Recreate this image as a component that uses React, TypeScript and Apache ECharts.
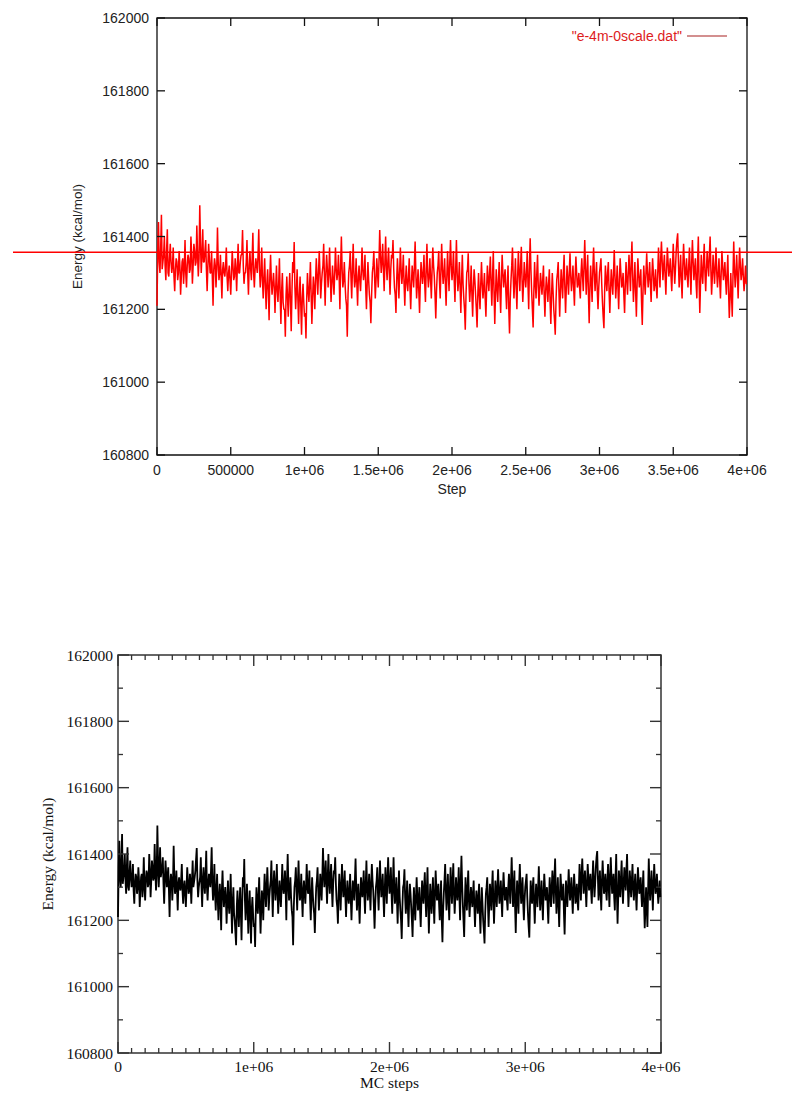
import React, { useEffect, useRef } from "react";
import * as echarts from "echarts";

// Energy (kcal/mol): one value every 10000 MC steps ...
const STEP_SPACING = 10000;
const energyAtSteps: number[] = [
  161210, 161440, 161300, 161460, 161330, 161400, 161280, 161420, 161290, 161380,
  161300, 161370, 161250, 161340, 161280, 161360, 161240, 161330, 161270, 161390,
  161260, 161350, 161300, 161400, 161270, 161380, 161320, 161430, 161290, 161486,
  161300, 161420, 161330, 161390, 161250, 161380, 161300, 161360, 161210, 161340,
  161260, 161425, 161280, 161350, 161230, 161330, 161290, 161370, 161250, 161320,
  161240, 161360, 161280, 161340, 161250, 161380, 161300, 161350, 161418, 161270,
  161300, 161390, 161240, 161360, 161280, 161410, 161260, 161340, 161300, 161420,
  161260, 161370, 161230, 161340, 161200, 161310, 161170, 161350, 161240, 161300,
  161190, 161320, 161220, 161340, 161160, 161300, 161200, 161125, 161290, 161180,
  161300, 161140, 161330, 161385, 161200, 161310, 161160, 161290, 161130, 161270,
  161180, 161120, 161300, 161220, 161330, 161160, 161290, 161200, 161340, 161240,
  161360, 161230, 161300, 161380, 161210, 161350, 161260, 161370, 161220, 161320,
  161240, 161370, 161280, 161350, 161200, 161400, 161260, 161330, 161230, 161125,
  161300, 161360, 161230, 161380, 161260, 161340, 161210, 161320, 161250, 161370,
  161280, 161350, 161200, 161330, 161240, 161162, 161300, 161360, 161230, 161340,
  161260, 161418, 161300, 161380, 161250, 161400, 161280, 161370, 161240, 161350,
  161390, 161260, 161190, 161340, 161230, 161370, 161270, 161350, 161210, 161320,
  161250, 161340, 161200, 161320, 161260, 161386, 161230, 161310, 161190, 161330,
  161270, 161350, 161220, 161380, 161260, 161340, 161230, 161370, 161290, 161175,
  161300, 161360, 161230, 161380, 161270, 161340, 161210, 161360, 161250, 161390,
  161280, 161360, 161220, 161390, 161250, 161330, 161190, 161350, 161230, 161144,
  161300, 161354, 161220, 161320, 161180, 161310, 161240, 161150, 161300, 161200,
  161330, 161230, 161300, 161180, 161320, 161250, 161345, 161210, 161360, 161160,
  161310, 161220, 161330, 161190, 161350, 161260, 161310, 161200, 161320, 161134,
  161280, 161370, 161230, 161340, 161200, 161360, 161250, 161372, 161220, 161330,
  161260, 161360, 161200, 161395, 161250, 161150, 161330, 161230, 161350, 161210,
  161300, 161240, 161320, 161180, 161290, 161220, 161310, 161160, 161300, 161200,
  161130, 161280, 161330, 161180, 161310, 161230, 161350, 161190, 161320, 161240,
  161354, 161250, 161320, 161210, 161345, 161260, 161300, 161230, 161340, 161250,
  161390, 161240, 161350, 161162, 161320, 161220, 161370, 161250, 161330, 161200,
  161300, 161340, 161220, 161148, 161320, 161250, 161330, 161190, 161310, 161240,
  161363, 161230, 161320, 161200, 161340, 161260, 161300, 161190, 161330, 161240,
  161350, 161250, 161386, 161220, 161330, 161180, 161340, 161260, 161310, 161157,
  161320, 161240, 161354, 161260, 161330, 161220, 161340, 161250, 161310, 161230,
  161370, 161260, 161386, 161280, 161350, 161240, 161370, 161290, 161340, 161250,
  161380, 161270, 161360, 161409, 161260, 161350, 161230, 161380, 161280, 161340,
  161260, 161370, 161240, 161390, 161280, 161340, 161230, 161400, 161190, 161350,
  161270, 161380, 161250, 161360, 161290, 161400, 161240, 161350, 161270, 161370,
  161260, 161340, 161230, 161360, 161280, 161330, 161240, 161350, 161176, 161300,
  161180, 161386, 161260, 161350, 161230, 161370, 161280, 161340, 161250, 161320,
  161270,
];
// ... and one value half-way between each pair (5000 + k*10000 steps)
const energyAtHalfSteps: number[] = [
  161360, 161330, 161370, 161310, 161350, 161320, 161360, 161300, 161340, 161330,
  161320, 161290, 161310, 161330, 161300, 161320, 161290, 161340, 161310, 161300,
  161320, 161340, 161310, 161350, 161320, 161360, 161330, 161350, 161340, 161380,
  161350, 161330, 161360, 161310, 161320, 161340, 161300, 161290, 161310, 161320,
  161310, 161330, 161300, 161290, 161310, 161300, 161320, 161290, 161300, 161280,
  161300, 161320, 161290, 161310, 161320, 161300, 161330, 161350, 161320, 161300,
  161330, 161300, 161320, 161310, 161340, 161300, 161310, 161320, 161350, 161310,
  161300, 161280, 161290, 161260, 161270, 161250, 161290, 161280, 161270, 161260,
  161260, 161250, 161270, 161240, 161250, 161220, 161200, 161240, 161230, 161250,
  161220, 161250, 161300, 161260, 161250, 161230, 161240, 161210, 161230, 161220,
  161190, 161230, 161250, 161270, 161240, 161230, 161260, 161280, 161290, 161300,
  161300, 161270, 161320, 161290, 161300, 161310, 161300, 161290, 161270, 161280,
  161300, 161310, 161300, 161290, 161320, 161310, 161280, 161270, 161210, 161240,
  161320, 161290, 161310, 161300, 161280, 161270, 161290, 161280, 161300, 161310,
  161300, 161260, 161270, 161280, 161220, 161240, 161320, 161290, 161280, 161300,
  161330, 161350, 161330, 161310, 161330, 161320, 161330, 161300, 161310, 161340,
  161310, 161240, 161280, 161290, 161300, 161310, 161300, 161270, 161280, 161270,
  161290, 161260, 161270, 161290, 161320, 161300, 161270, 161250, 161270, 161300,
  161300, 161270, 161310, 161300, 161290, 161280, 161310, 161320, 161240, 161250,
  161320, 161280, 161310, 161310, 161300, 161270, 161290, 161300, 161330, 161320,
  161310, 161280, 161310, 161300, 161280, 161260, 161280, 161270, 161200, 161240,
  161310, 161270, 161260, 161240, 161260, 161280, 161200, 161240, 161240, 161270,
  161270, 161260, 161230, 161260, 161280, 161300, 161270, 161290, 161250, 161240,
  161260, 161280, 161250, 161280, 161300, 161290, 161250, 161270, 161200, 161230,
  161320, 161290, 161280, 161260, 161290, 161300, 161320, 161280, 161270, 161290,
  161300, 161270, 161320, 161310, 161200, 161250, 161270, 161300, 161260, 161260,
  161270, 161280, 161240, 161250, 161260, 161270, 161220, 161240, 161250, 161170,
  161220, 161300, 161250, 161250, 161270, 161300, 161260, 161260, 161280, 161300,
  161290, 161280, 161260, 161290, 161300, 161270, 161260, 161300, 161290, 161320,
  161310, 161300, 161240, 161260, 161270, 161310, 161300, 161290, 161250, 161260,
  161320, 161270, 161180, 161250, 161280, 161300, 161250, 161260, 161270, 161300,
  161290, 161270, 161260, 161280, 161300, 161270, 161240, 161270, 161280, 161300,
  161300, 161330, 161290, 161270, 161250, 161270, 161300, 161280, 161220, 161250,
  161280, 161300, 161300, 161290, 161270, 161290, 161300, 161270, 161260, 161300,
  161310, 161340, 161330, 161320, 161290, 161310, 161330, 161310, 161290, 161320,
  161320, 161310, 161390, 161330, 161300, 161280, 161320, 161330, 161300, 161290,
  161320, 161300, 161330, 161330, 161310, 161270, 161330, 161280, 161270, 161300,
  161330, 161300, 161310, 161320, 161350, 161310, 161290, 161310, 161320, 161300,
  161300, 161280, 161300, 161320, 161300, 161280, 161300, 161250, 161230, 161240,
  161290, 161310, 161300, 161290, 161310, 161320, 161300, 161290, 161280, 161270,
];

const referenceEnergy = 161357;
const seriesName = '"e-4m-0scale.dat"';

const topXTickLabels = ["0", "500000", "1e+06", "1.5e+06", "2e+06", "2.5e+06", "3e+06", "3.5e+06", "4e+06"];
const bottomXTickLabels = ["0", "1e+06", "2e+06", "3e+06", "4e+06"];
const yTickLabels = ["160800", "161000", "161200", "161400", "161600", "161800", "162000"];

const X_MIN = 0;
const X_MAX = 4000000;
const Y_MIN = 160800;
const Y_MAX = 162000;
const TOP_X_STEP = 500000;
const BOT_X_STEP = 1000000;
const BOT_X_MINOR = 100000;
const Y_STEP = 200;
const Y_MINOR = 100;

function range(min: number, max: number, step: number): number[] {
  const out: number[] = [];
  for (let v = min; v <= max + 1e-6; v += step) out.push(v);
  return out;
}

export default function App() {
  const ref = useRef<HTMLDivElement>(null);

  useEffect(() => {
    if (!ref.current) return;
    const chart = echarts.init(ref.current, undefined, { renderer: "svg" });

    const data: number[][] = [];
    energyAtSteps.forEach((v, i) => {
      data.push([i * STEP_SPACING, v]);
      if (i < energyAtHalfSteps.length) data.push([i * STEP_SPACING + STEP_SPACING / 2, energyAtHalfSteps[i]]);
    });

    const sans = "Liberation Sans";
    const serif = "Liberation Serif";

    const option: any = {
      animation: false,
      backgroundColor: "#fff",
      grid: [
        { left: 157, top: 18, width: 590, height: 437, show: true, borderColor: "#111", borderWidth: 1.3, backgroundColor: "transparent" },
        { left: 118, top: 655, width: 543, height: 398, show: true, borderColor: "#333", borderWidth: 1.5, backgroundColor: "transparent" },
      ],
      legend: {
        data: [{ name: seriesName, icon: "rect", itemStyle: { color: "#c46a6a" } }],
        align: "right",
        right: 68,
        top: 24,
        itemWidth: 40,
        itemHeight: 1.5,
        itemGap: 8,
        textStyle: { color: "#dd1c1c", fontSize: 14, fontFamily: sans },
      },
      xAxis: [
        {
          gridIndex: 0, type: "value", position: "bottom", min: X_MIN, max: X_MAX, interval: TOP_X_STEP,
          axisLine: { show: false }, axisTick: { show: false },
          axisLabel: { fontFamily: sans, fontSize: 14, color: "#222", margin: 8,
            formatter: (_v: number, i: number) => topXTickLabels[i] },
          splitLine: { show: false },
          name: "Step", nameLocation: "middle", nameGap: 27,
          nameTextStyle: { fontFamily: sans, fontSize: 14, color: "#222" },
        },
        {
          gridIndex: 1, type: "value", position: "bottom", min: X_MIN, max: X_MAX, interval: BOT_X_STEP,
          axisLine: { show: false }, axisTick: { show: false },
          axisLabel: { fontFamily: serif, fontSize: 15.5, color: "#111", margin: 5,
            formatter: (_v: number, i: number) => bottomXTickLabels[i] },
          splitLine: { show: false },
          name: "MC steps", nameLocation: "middle", nameGap: 21,
          nameTextStyle: { fontFamily: serif, fontSize: 15.5, color: "#111" },
        },
      ],
      yAxis: [
        {
          gridIndex: 0, type: "value", position: "left", min: Y_MIN, max: Y_MAX, interval: Y_STEP,
          axisLine: { show: false }, axisTick: { show: false },
          axisLabel: { fontFamily: sans, fontSize: 14, color: "#222", margin: 8,
            formatter: (_v: number, i: number) => yTickLabels[i] },
          splitLine: { show: false },
          name: "Energy (kcal/mol)", nameLocation: "middle", nameGap: 73,
          nameTextStyle: { fontFamily: sans, fontSize: 13.5, color: "#222" },
        },
        {
          gridIndex: 1, type: "value", position: "left", min: Y_MIN, max: Y_MAX, interval: Y_STEP,
          axisLine: { show: false }, axisTick: { show: false },
          axisLabel: { fontFamily: serif, fontSize: 15.5, color: "#111", margin: 5,
            formatter: (_v: number, i: number) => yTickLabels[i] },
          splitLine: { show: false },
          name: "Energy (kcal/mol)", nameLocation: "middle", nameGap: 56,
          nameTextStyle: { fontFamily: serif, fontSize: 15.5, color: "#111" },
        },
      ],
      series: [
        {
          name: seriesName, type: "line", xAxisIndex: 0, yAxisIndex: 0, data,
          showSymbol: false, symbol: "none",
          lineStyle: { color: "#ff0000", width: 1.5 }, itemStyle: { color: "#ff0000" },
        },
        {
          name: "MC", type: "line", xAxisIndex: 1, yAxisIndex: 1, data,
          showSymbol: false, symbol: "none",
          lineStyle: { color: "#000", width: 1.8 }, itemStyle: { color: "#000" },
        },
      ],
    };

    chart.setOption(option);

    // inward ticks on all four sides, positioned through the axes' own scales
    const px = (axis: number, v: number) => chart.convertToPixel({ xAxisIndex: axis } as any, v) as number;
    const py = (axis: number, v: number) => chart.convertToPixel({ yAxisIndex: axis } as any, v) as number;

    const graphics: any[] = [];
    const seg = (x1: number, y1: number, x2: number, y2: number, color: string, width: number) => {
      graphics.push({
        type: "line", silent: true, z: 50,
        shape: { x1, y1, x2, y2 },
        style: { stroke: color, lineWidth: width },
      });
    };
    const tickSet = (axis: number, xVals: number[], yVals: number[], len: number, color: string, width: number) => {
      const x0 = px(axis, X_MIN), x1 = px(axis, X_MAX);
      const y0 = py(axis, Y_MIN), y1 = py(axis, Y_MAX);
      xVals.forEach((v) => {
        const x = px(axis, v);
        seg(x, y0, x, y0 - len, color, width);
        seg(x, y1, x, y1 + len, color, width);
      });
      yVals.forEach((v) => {
        const y = py(axis, v);
        seg(x0, y, x0 + len, y, color, width);
        seg(x1, y, x1 - len, y, color, width);
      });
    };

    tickSet(0, range(X_MIN, X_MAX, TOP_X_STEP), range(Y_MIN, Y_MAX, Y_STEP), 8, "#111", 1.3);
    tickSet(1, range(X_MIN, X_MAX, BOT_X_STEP), range(Y_MIN, Y_MAX, Y_STEP), 11, "#333", 1.4);
    tickSet(1, range(X_MIN, X_MAX, BOT_X_MINOR).filter((v) => v % BOT_X_STEP !== 0),
      range(Y_MIN, Y_MAX, Y_MINOR).filter((v) => v % Y_STEP !== 0), 5, "#333", 1.3);

    const yRef = py(0, referenceEnergy);
    seg(13, yRef, 792, yRef, "#ff0000", 1.5);

    chart.setOption({ graphic: graphics });

    return () => chart.dispose();
  }, []);

  return (
    <div
      ref={ref}
      style={{ position: "absolute", left: 0, top: 0, width: 800, height: 1101, background: "#fff" }}
    />
  );
}
